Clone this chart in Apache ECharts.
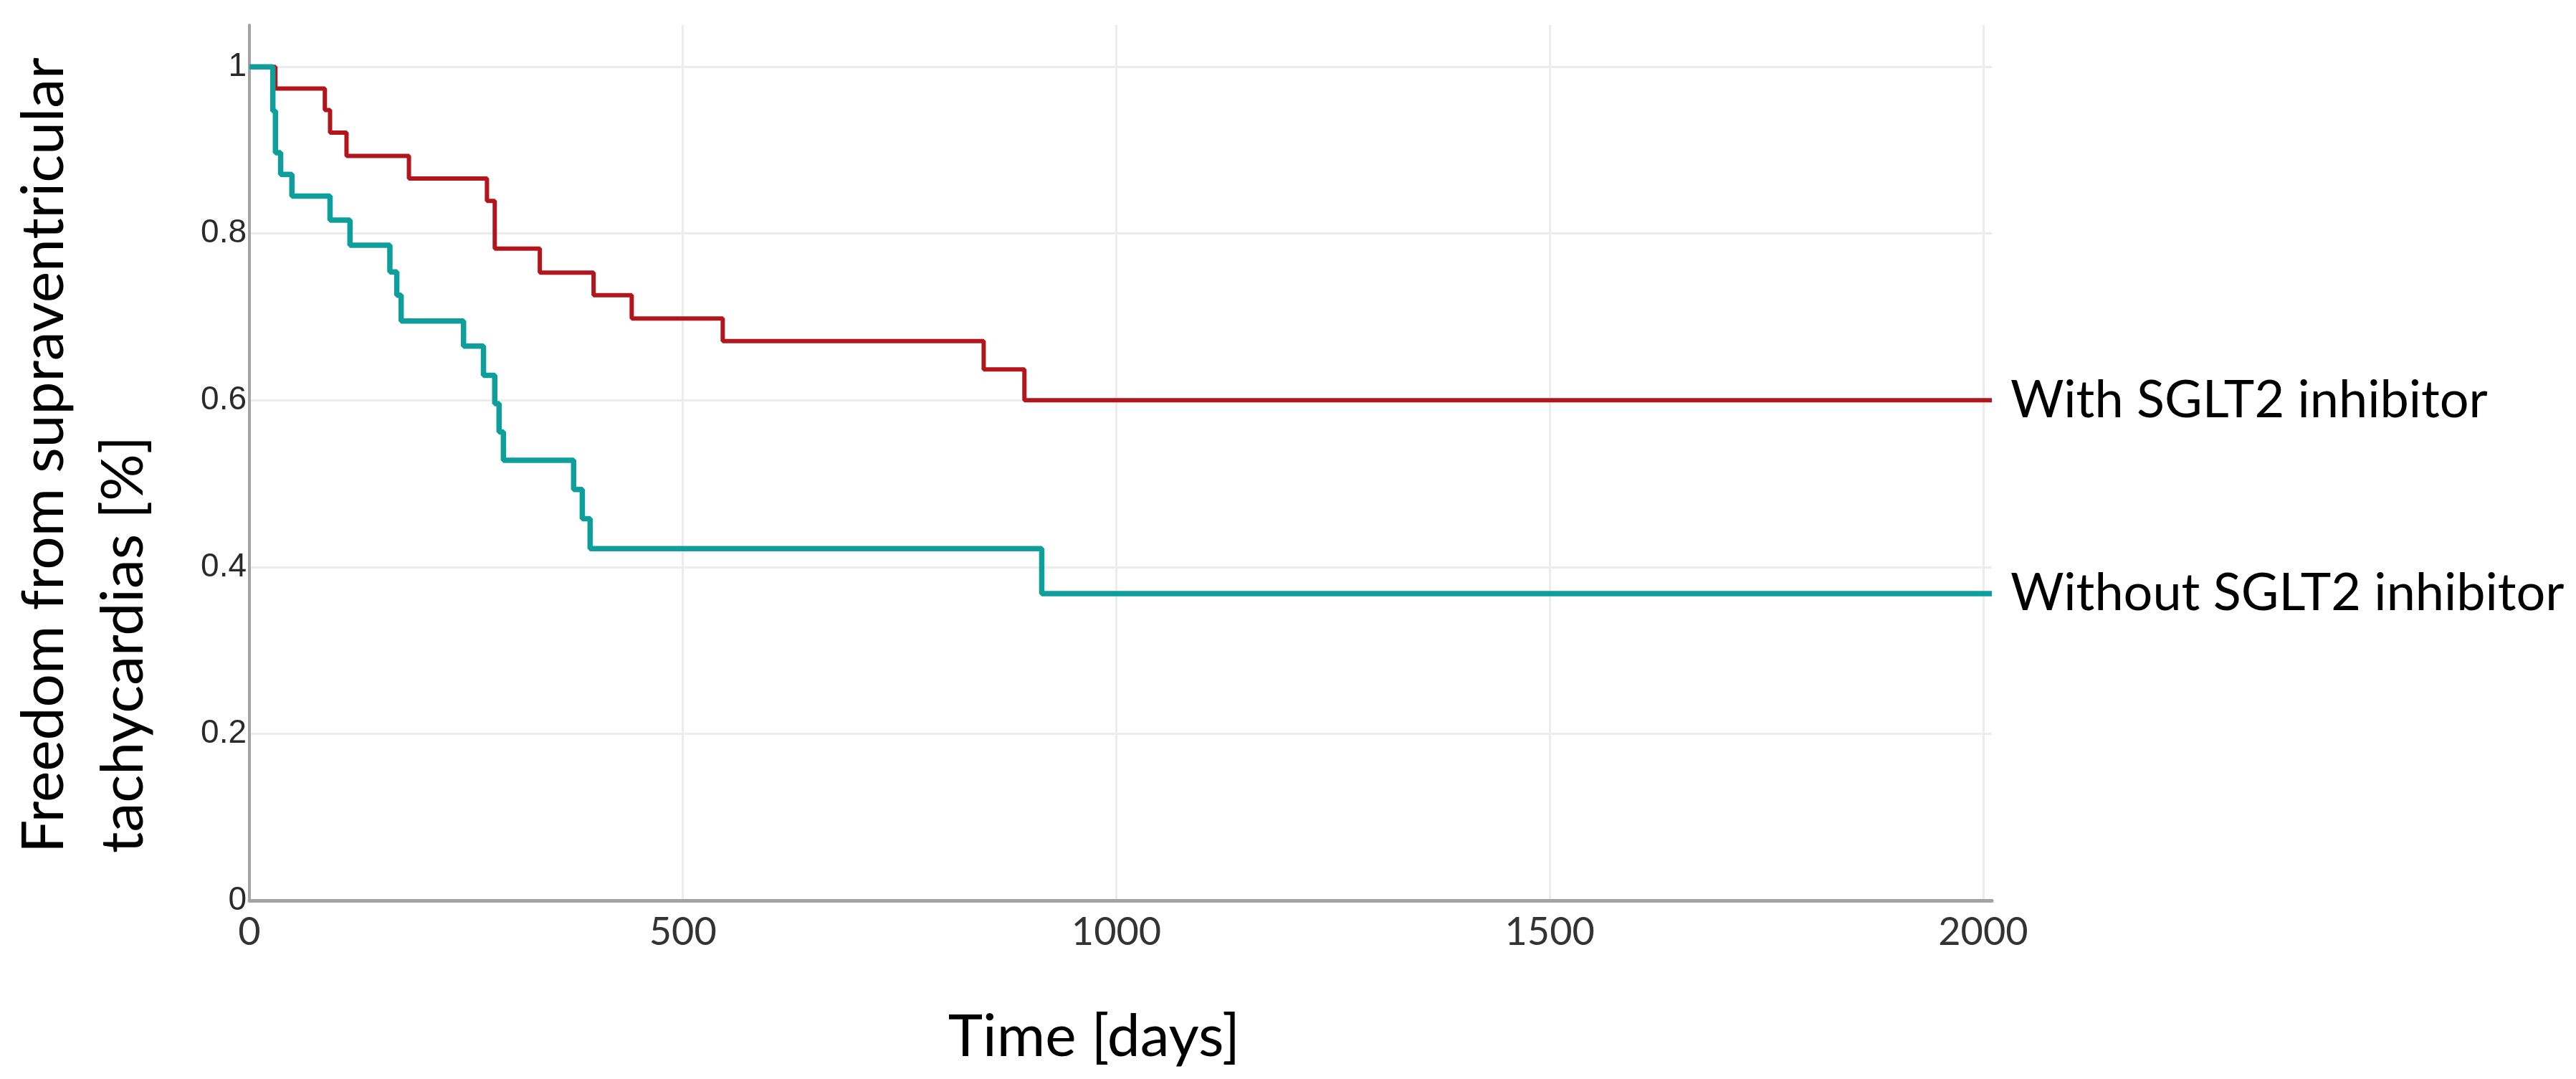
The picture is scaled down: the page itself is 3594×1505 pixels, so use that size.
<!DOCTYPE html>
<html>
<head>
<meta charset="utf-8">
<script src="https://cdn.jsdelivr.net/npm/echarts@6/dist/echarts.min.js"></script>
<style>
  html, body { margin: 0; padding: 0; background: #fff; }
  #km { width: 3594px; height: 1505px; }
</style>
</head>
<body>
<div id="km"></div>
<script>
// Kaplan-Meier steps (time in days, survival fraction)
const withTime = [0, 30, 87, 93, 112, 184, 274, 283, 335, 397, 441, 546, 847, 894, 2010]
const withSurv = [1, 0.974, 0.948, 0.921, 0.893, 0.866, 0.839, 0.782, 0.753, 0.726, 0.698, 0.671, 0.637, 0.600, 0.600]

const withoutTime = [0, 27, 30, 36, 49, 93, 116, 162, 170, 175, 247, 270, 283, 288, 293, 374, 384, 393, 914, 2010]
const withoutSurv = [1, 0.947, 0.897, 0.871, 0.845, 0.816, 0.786, 0.754, 0.726, 0.695, 0.665, 0.630, 0.596, 0.562, 0.528, 0.493, 0.458, 0.422, 0.368, 0.368]

const seriesNames = ['With SGLT2 inhibitor', 'Without SGLT2 inhibitor']
const yTitleLines = ['Freedom from supraventricular', 'tachycardias [%]']
const xTitle = 'Time [days]'

const titleFont = 'Lato, "Open Sans", sans-serif'
const tickFont = '"Liberation Sans", Arial, sans-serif'

const zip = (xs, ys) => xs.map((x, i) => [x, ys[i]])

const chart = echarts.init(document.getElementById('km'))

const option = {
  animation: false,
  backgroundColor: '#fff',
  grid: {
    left: 348,
    right: 815,
    top: 35,
    bottom: 249,
    containLabel: false,
    outerBoundsMode: 'none'
  },
  xAxis: {
    type: 'value',
    min: 0,
    max: 2010,
    interval: 500,
    name: xTitle,
    nameLocation: 'middle',
    nameGap: 150,
    nameTextStyle: {
      fontFamily: titleFont,
      fontSize: 82,
      color: '#000',
      padding: [0, 74, 0, 0]
    },
    axisLine: { show: true, onZero: false, lineStyle: { color: '#a3a3a3', width: 5 } },
    axisTick: { show: false },
    axisLabel: {
      fontFamily: titleFont,
      fontSize: 54,
      color: '#333',
      margin: 18,
      showMaxLabel: false,
      formatter: v => String(v)
    },
    splitLine: {
      show: true,
      showMaxLine: false,
      lineStyle: { color: '#ececec', width: 3 }
    }
  },
  yAxis: {
    type: 'value',
    min: 0,
    max: 1.05,
    interval: 0.2,
    axisLine: { show: true, onZero: false, lineStyle: { color: '#a3a3a3', width: 4 } },
    axisTick: { show: false },
    axisLabel: {
      fontFamily: tickFont,
      fontSize: 46,
      color: '#2a2a2a',
      margin: 4,
      showMaxLabel: false,
      formatter: v => String(Math.round(v * 10) / 10)
    },
    splitLine: {
      show: true,
      showMaxLine: false,
      lineStyle: { color: '#ececec', width: 3 }
    }
  },
  series: [
    {
      name: seriesNames[0],
      type: 'line',
      step: 'end',
      showSymbol: false,
      clip: false,
      data: zip(withTime, withSurv),
      lineStyle: { color: '#b2161c', width: 6 },
      itemStyle: { color: '#b2161c' },
      endLabel: {
        show: true,
        formatter: '{a}',
        distance: 26,
        fontFamily: titleFont,
        fontSize: 72,
        color: '#000'
      }
    },
    {
      name: seriesNames[1],
      type: 'line',
      step: 'end',
      showSymbol: false,
      clip: false,
      data: zip(withoutTime, withoutSurv),
      lineStyle: { color: '#0e9f9d', width: 7.5 },
      itemStyle: { color: '#0e9f9d' },
      endLabel: {
        show: true,
        formatter: '{a}',
        distance: 26,
        fontFamily: titleFont,
        fontSize: 72,
        color: '#000'
      }
    }
  ],
  // two-line rotated y title, lines start at the same bottom point
  graphic: yTitleLines.map((line, i) => ({
    type: 'text',
    x: 62 + i * 111,
    y: 1190,
    rotation: Math.PI / 2,
    style: {
      text: line,
      fontFamily: titleFont,
      fontSize: 82,
      fill: '#000',
      align: 'left',
      verticalAlign: 'middle'
    }
  }))
}

chart.setOption(option)
</script>
</body>
</html>
